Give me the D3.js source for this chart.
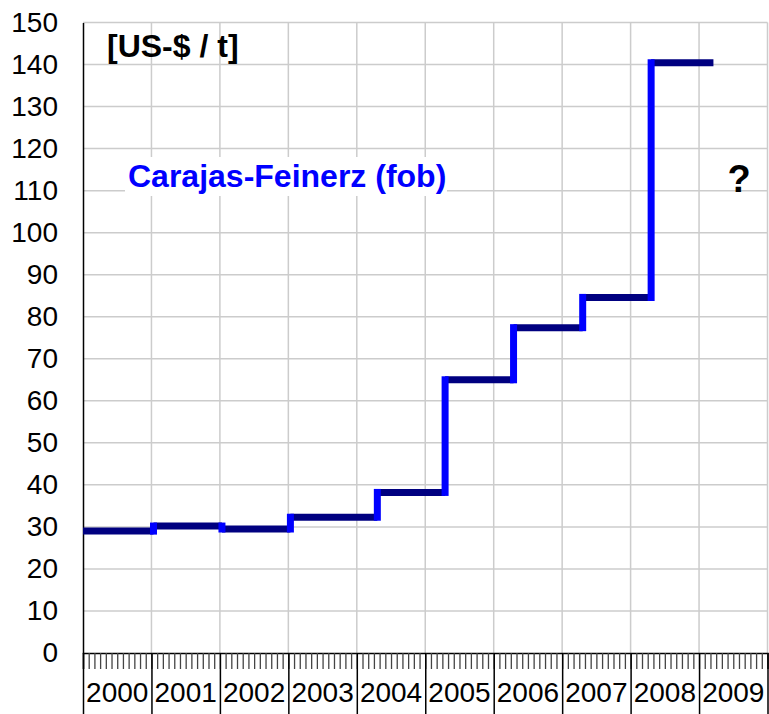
<!DOCTYPE html>
<html>
<head>
<meta charset="utf-8">
<script src="https://cdn.jsdelivr.net/npm/d3@7"></script>
<style>
  body { margin: 0; background: #fff; }
  svg { display: block; font-family: "Liberation Sans", Arial, sans-serif; }
</style>
</head>
<body>
<div id="chart"></div>
<script>
// price periods: start (fractional year) and price in US-$ per tonne
const periodStart = [2000.0, 2001.03, 2002.03, 2003.03, 2004.3, 2005.29, 2006.29, 2007.3, 2008.3];
const periodEnd = [2001.03, 2002.03, 2003.03, 2004.3, 2005.29, 2006.29, 2007.3, 2008.3, 2009.21];
const prices = [29.0, 30.2, 29.5, 32.3, 38.2, 65.0, 77.4, 84.6, 140.4];
const years = [2000, 2001, 2002, 2003, 2004, 2005, 2006, 2007, 2008, 2009];
const yTicks = d3.range(0, 151, 10);

const width = 769;
const height = 714;

const x = d3.scaleLinear().domain([2000, 2010]).range([83, 767.5]);
const y = d3.scaleLinear().domain([0, 150]).range([653, 22.5]);

const svg = d3.select("#chart")
    .append("svg")
    .attr("width", width)
    .attr("height", height);

// gridlines
svg.append("g")
    .selectAll("line")
    .data(yTicks.filter(d => d > 0))
    .join("line")
    .attr("x1", x(2000)).attr("x2", x(2010))
    .attr("y1", d => y(d)).attr("y2", d => y(d))
    .attr("stroke", "#cccccc").attr("stroke-width", 1.5);

svg.append("g")
    .selectAll("line")
    .data(years.map(d => d + 1))
    .join("line")
    .attr("x1", d => x(d)).attr("x2", d => x(d))
    .attr("y1", y(150)).attr("y2", y(0))
    .attr("stroke", "#cccccc").attr("stroke-width", 1.5);

// y axis
const yAxis = svg.append("g")
    .attr("transform", `translate(${x(2000)},0)`)
    .call(d3.axisLeft(y).tickValues(yTicks).tickSize(0).tickPadding(25));
yAxis.select(".domain").attr("stroke", "#000").attr("stroke-width", 1.5);
yAxis.selectAll("text")
    .attr("font-size", 28)
    .attr("fill", "#000")
    .attr("font-family", "Liberation Sans, Arial, sans-serif");

// x axis: monthly minor ticks
const months = d3.range(0, 121).map(i => 2000 + i / 12);
const xMinor = svg.append("g")
    .attr("transform", `translate(0,${y(0)})`)
    .call(d3.axisBottom(x).tickValues(months).tickSize(16).tickFormat(""));
xMinor.select(".domain").attr("stroke", "#000").attr("stroke-width", 1.5);
xMinor.selectAll(".tick line").attr("stroke", "#444").attr("stroke-width", 1.3);

// x axis: year boundaries
const xMajor = svg.append("g")
    .attr("transform", `translate(0,${y(0)})`)
    .call(d3.axisBottom(x).tickValues(years.concat([2010])).tickSize(61).tickFormat(""));
xMajor.select(".domain").remove();
xMajor.selectAll(".tick line").attr("stroke", "#000").attr("stroke-width", 1.5);

svg.append("g")
    .selectAll("text")
    .data(years)
    .join("text")
    .attr("x", d => x(d + 0.5))
    .attr("y", 702)
    .attr("text-anchor", "middle")
    .attr("font-size", 28)
    .attr("fill", "#000")
    .text(d => d);

// step line: horizontal segments
svg.append("g")
    .selectAll("line")
    .data(prices)
    .join("line")
    .attr("x1", (d, i) => x(periodStart[i]))
    .attr("x2", (d, i) => x(periodEnd[i]))
    .attr("y1", d => y(d)).attr("y2", d => y(d))
    .attr("stroke", "#000080")
    .attr("stroke-width", 7);

// step line: vertical segments
svg.append("g")
    .selectAll("line")
    .data(prices.slice(1))
    .join("line")
    .attr("x1", (d, i) => x(periodStart[i + 1]))
    .attr("x2", (d, i) => x(periodStart[i + 1]))
    .attr("y1", (d, i) => y(prices[i]))
    .attr("y2", d => y(d))
    .attr("stroke", "#0000ff")
    .attr("stroke-width", 7)
    .attr("stroke-linecap", "square");

// labels
svg.append("text")
    .attr("x", 107).attr("y", 57)
    .attr("font-size", 32).attr("font-weight", "bold")
    .attr("fill", "#000")
    .text("[US-$ / t]");

svg.append("rect")
    .attr("x", 125).attr("y", 157)
    .attr("width", 322).attr("height", 39)
    .attr("fill", "#fff");

svg.append("text")
    .attr("x", 128).attr("y", 187)
    .attr("font-size", 32).attr("font-weight", "bold")
    .attr("fill", "#0000ff")
    .text("Carajas-Feinerz (fob)");

svg.append("text")
    .attr("x", 739).attr("y", 192)
    .attr("text-anchor", "middle")
    .attr("font-size", 38).attr("font-weight", "bold")
    .attr("fill", "#000")
    .text("?");
</script>
</body>
</html>
